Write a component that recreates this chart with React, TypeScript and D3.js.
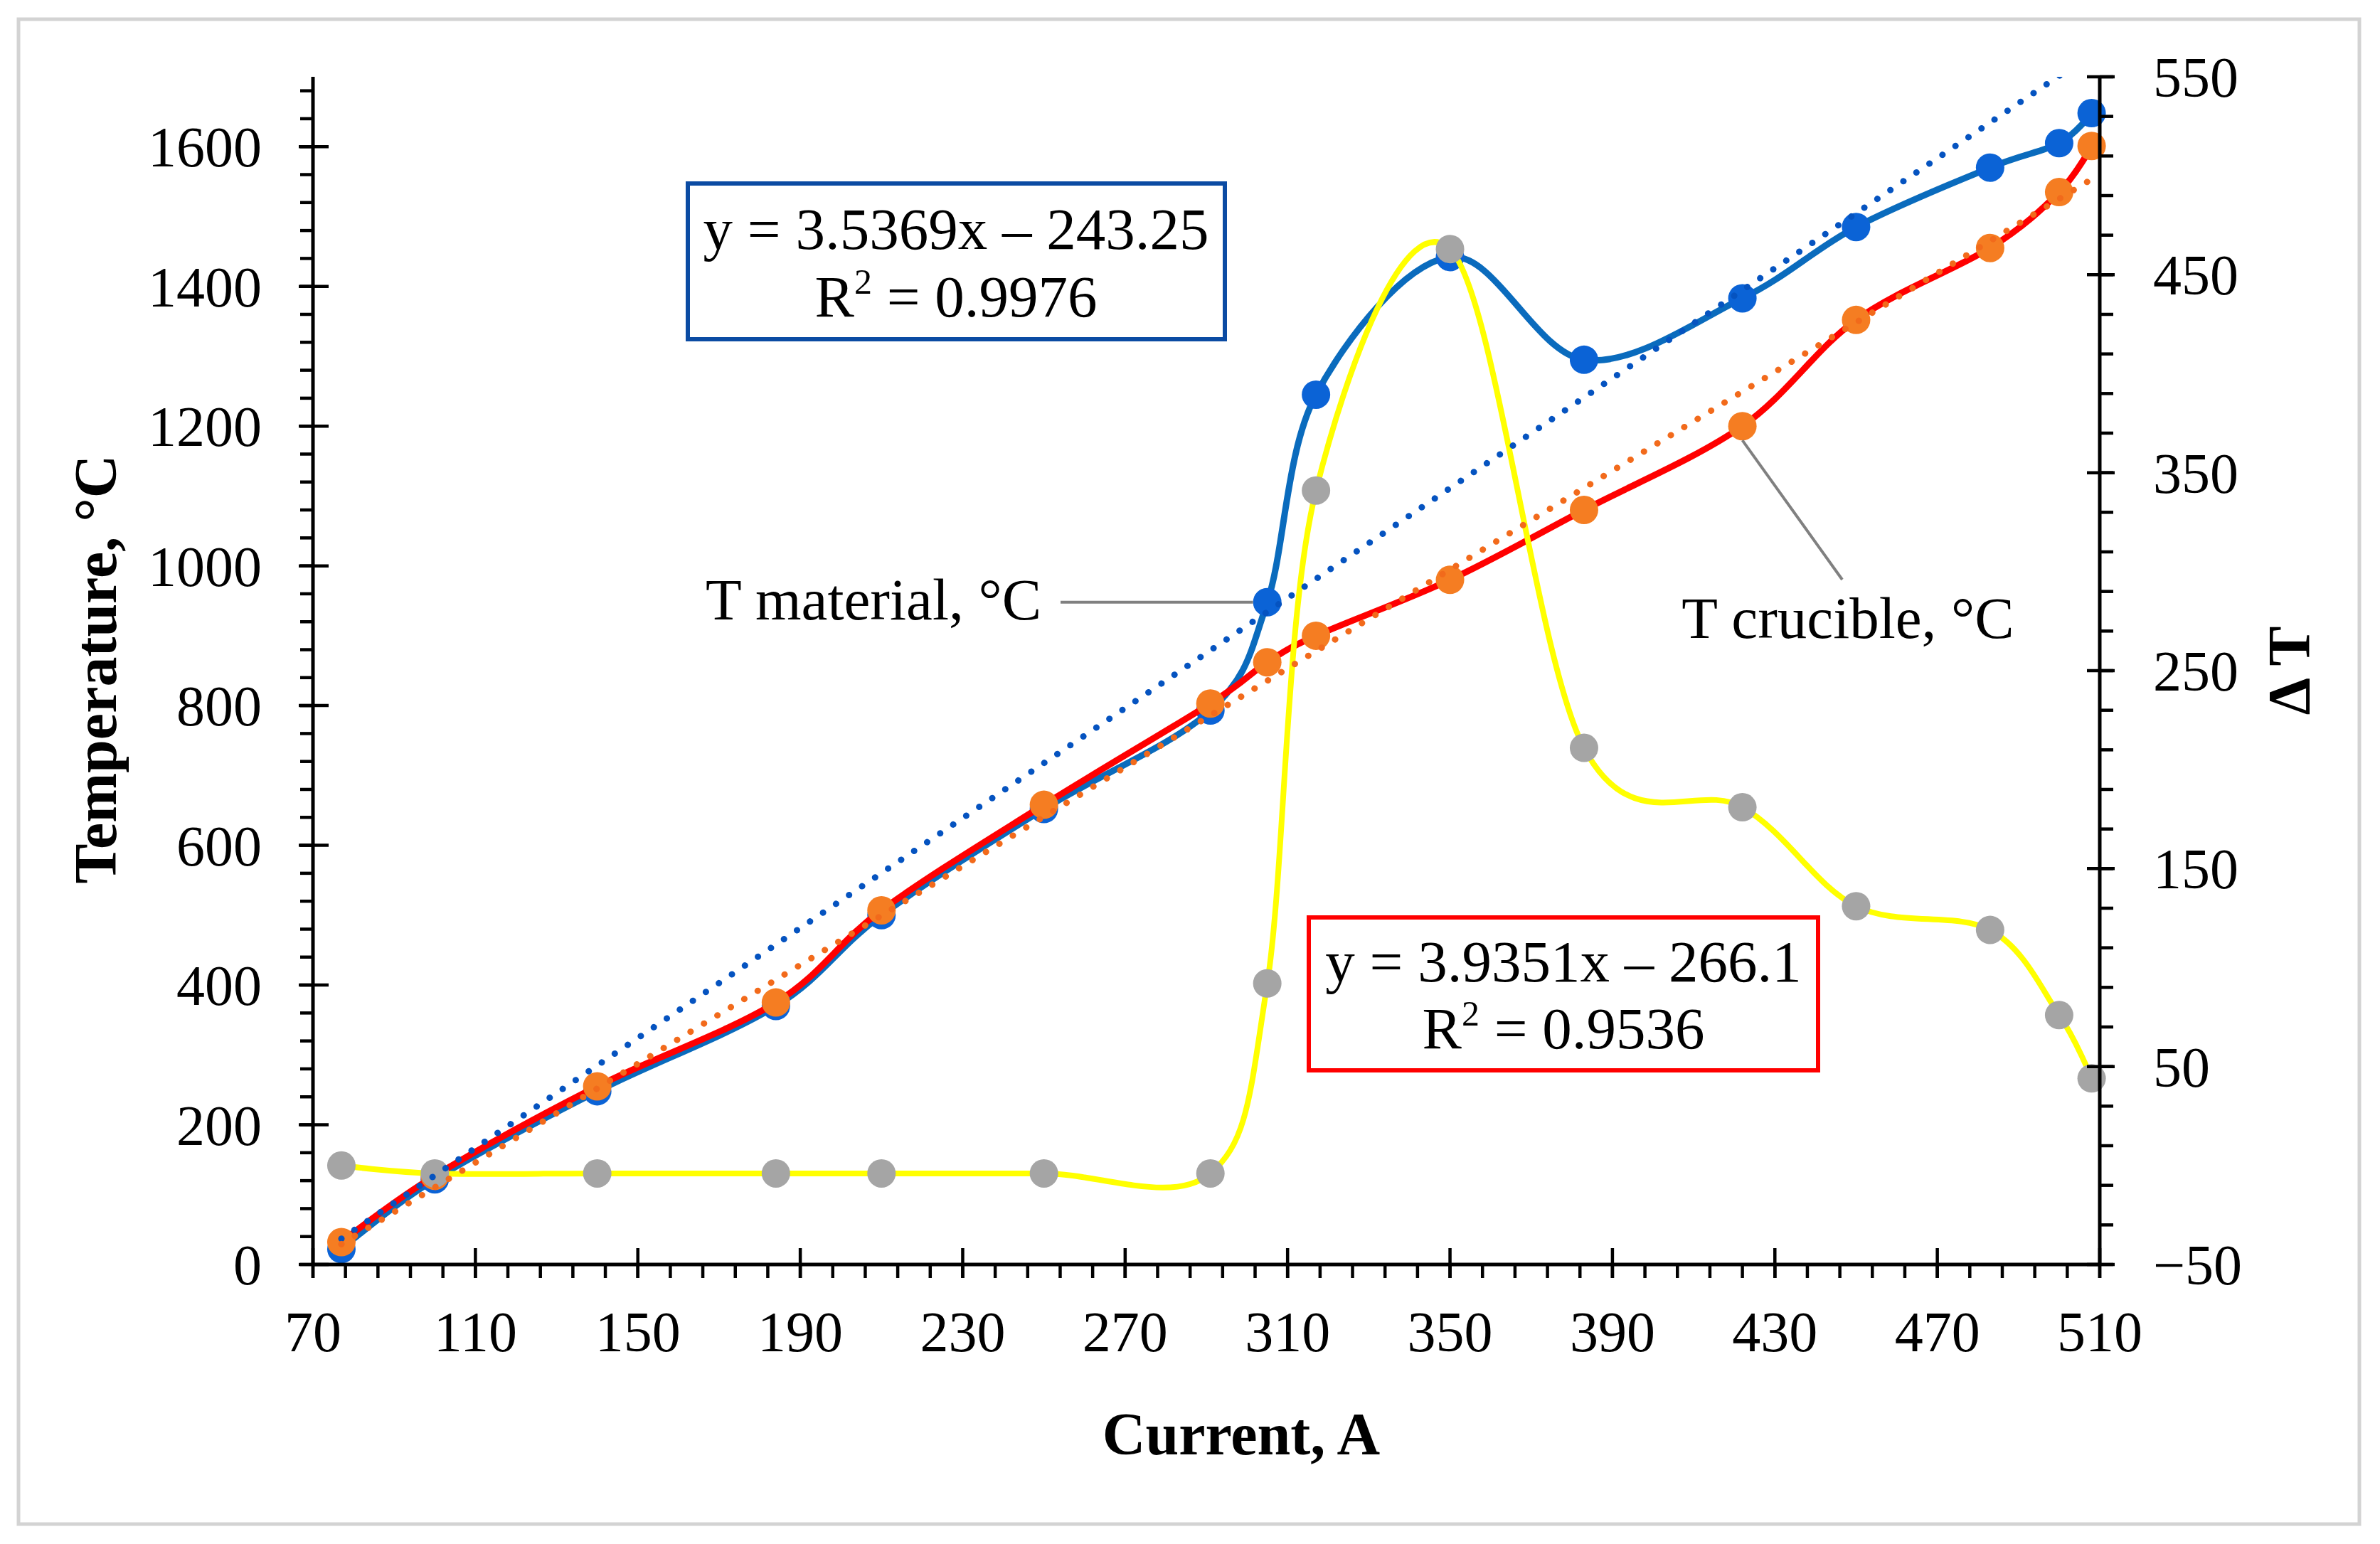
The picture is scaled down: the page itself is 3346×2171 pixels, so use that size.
import React from "react";
import * as d3 from "d3";

// ---- data ----
const current = [77, 100, 140, 184, 210, 250, 291, 305, 317, 350, 383, 422, 450, 483, 500, 508];
const tMaterial = [22, 122, 248, 370, 500, 652, 793, 948, 1245, 1442, 1295, 1383, 1485, 1570, 1605, 1648];
const tCrucible = [32, 127, 255, 375, 507, 658, 803, 862, 900, 980, 1080, 1200, 1352, 1455, 1535, 1601];
const deltaT = [0, -4, -4, -4, -4, -4, -4, 92, 341, 463, 211, 181, 131, 119, 76, 44];

// trendlines as drawn (linear fits)
const trendMaterial = { slope: 3.9351, intercept: -266.1 };
const trendCrucible = { slope: 3.5369, intercept: -243.25 };

const xTicks = d3.range(70, 511, 40);
const xMinor = d3.range(70, 511, 8);
const yLeftTicks = d3.range(0, 1601, 200);
const yLeftMinor = d3.range(0, 1681, 40);
const yRightTicks = d3.range(-50, 551, 100);
const yRightMinor = d3.range(-50, 551, 20);

const eq1 = ["y = 3.5369x – 243.25", "0.9976"];
const eq2 = ["y = 3.9351x – 266.1", "0.9536"];

const W = 3346;
const H = 2171;
const FONT = "'Liberation Serif', 'Times New Roman', serif";

export default function App() {
  const x = d3.scaleLinear().domain([70, 510]).range([440, 2952]);
  const yL = d3.scaleLinear().domain([0, 1700]).range([1778, 108]);
  const yR = d3.scaleLinear().domain([-50, 550]).range([1778, 108]);

  const curve = d3.curveCardinal.tension(0);
  const lineL = d3
    .line<[number, number]>()
    .x((d) => x(d[0]))
    .y((d) => yL(d[1]))
    .curve(curve);
  const lineR = d3
    .line<[number, number]>()
    .x((d) => x(d[0]))
    .y((d) => yR(d[1]))
    .curve(curve);
  const straight = d3
    .line<[number, number]>()
    .x((d) => x(d[0]))
    .y((d) => yL(d[1]));

  const matPts = current.map((c, i) => [c, tMaterial[i]] as [number, number]);
  const crPts = current.map((c, i) => [c, tCrucible[i]] as [number, number]);
  const dPts = current.map((c, i) => [c, deltaT[i]] as [number, number]);

  const x0 = current[0];
  const x1 = current[current.length - 1];
  const trM: [number, number][] = [
    [x0, trendMaterial.slope * x0 + trendMaterial.intercept],
    [x1, trendMaterial.slope * x1 + trendMaterial.intercept],
  ];
  const trC: [number, number][] = [
    [x0, trendCrucible.slope * x0 + trendCrucible.intercept],
    [x1, trendCrucible.slope * x1 + trendCrucible.intercept],
  ];

  const R = 20;
  const iMat = current.indexOf(305);
  const iCr = current.indexOf(422);

  return (
    <svg
      width={W}
      height={H}
      viewBox={`0 0 ${W} ${H}`}
      style={{ position: "absolute", left: 0, top: 0, background: "#fff" }}
      fontFamily={FONT}
    >
      <defs>
        <clipPath id="plotClip">
          <rect x={440} y={108} width={2512} height={1670} />
        </clipPath>
      </defs>
      <rect x={0} y={0} width={W} height={H} fill="#fff" />
      <rect x={26} y={27} width={3291} height={2116} fill="none" stroke="#d3d3d3" strokeWidth={5} />

      {/* annotation boxes */}
      <rect x={967} y={258} width={755} height={219} fill="#fff" stroke="#0b4ba3" strokeWidth={6} />
      <text x={1344} y={350} fontSize={83} textAnchor="middle" fill="#000">{eq1[0]}</text>
      <text x={1344} y={445} fontSize={83} textAnchor="middle" fill="#000">
        R<tspan fontSize={50} dy={-32}>2</tspan>
        <tspan dy={32}>{" = " + eq1[1]}</tspan>
      </text>

      <rect x={1840} y={1290} width={716} height={215} fill="#fff" stroke="#ff0000" strokeWidth={6} />
      <text x={2198} y={1380} fontSize={83} textAnchor="middle" fill="#000">{eq2[0]}</text>
      <text x={2198} y={1474} fontSize={83} textAnchor="middle" fill="#000">
        R<tspan fontSize={50} dy={-32}>2</tspan>
        <tspan dy={32}>{" = " + eq2[1]}</tspan>
      </text>

      {/* series: T material */}
      <path d={lineL(matPts) || ""} fill="none" stroke="#0a6bbd" strokeWidth={9} />
      {matPts.map((p, i) => (
        <circle key={"m" + i} cx={x(p[0])} cy={yL(p[1])} r={R} fill="#0b63d6" />
      ))}

      {/* series: T crucible */}
      <path d={lineL(crPts) || ""} fill="none" stroke="#ff0000" strokeWidth={9} />
      {crPts.map((p, i) => (
        <circle key={"c" + i} cx={x(p[0])} cy={yL(p[1])} r={R} fill="#f57d22" />
      ))}

      {/* series: delta T (right axis) */}
      <path d={lineR(dPts) || ""} fill="none" stroke="#ffff00" strokeWidth={8} />
      {dPts.map((p, i) => (
        <circle key={"d" + i} cx={x(p[0])} cy={yR(p[1])} r={R} fill="#a5a5a5" />
      ))}

      {/* trendlines */}
      <g clipPath="url(#plotClip)">
        <path
          d={straight(trM) || ""}
          fill="none"
          stroke="#0553c0"
          strokeWidth={9}
          strokeDasharray="0.1 22"
          strokeLinecap="round"
        />
        <path
          d={straight(trC) || ""}
          fill="none"
          stroke="#f26a1b"
          strokeWidth={9}
          strokeDasharray="0.1 22"
          strokeLinecap="round"
        />
      </g>

      {/* callouts */}
      <line x1={1491} y1={yL(tMaterial[iMat])} x2={x(current[iMat]) - R} y2={yL(tMaterial[iMat])} stroke="#808080" strokeWidth={4} />
      <text x={1464} y={871} fontSize={83} textAnchor="end" fill="#000">T material, °C</text>
      <line x1={x(current[iCr])} y1={yL(tCrucible[iCr]) + R} x2={2590} y2={815} stroke="#808080" strokeWidth={4} />
      <text x={2598} y={897} fontSize={83} textAnchor="middle" fill="#000">T crucible, °C</text>

      {/* left axis */}
      <line x1={440} y1={108} x2={440} y2={1780} stroke="#000" strokeWidth={5} />
      {yLeftMinor.map((v) => (
        <line key={"lm" + v} x1={422} x2={440} y1={yL(v)} y2={yL(v)} stroke="#000" strokeWidth={4.5} />
      ))}
      {yLeftTicks.map((v) => (
        <g key={"lt" + v}>
          <line x1={420} x2={462} y1={yL(v)} y2={yL(v)} stroke="#000" strokeWidth={4.5} />
          <text x={368} y={yL(v)} dy="0.35em" fontSize={80} textAnchor="end" fill="#000">{v}</text>
        </g>
      ))}

      {/* right axis */}
      <line x1={2952} y1={108} x2={2952} y2={1780} stroke="#000" strokeWidth={5} />
      {yRightMinor.map((v) => (
        <line key={"rm" + v} x1={2952} x2={2971} y1={yR(v)} y2={yR(v)} stroke="#000" strokeWidth={4.5} />
      ))}
      {yRightTicks.map((v) => (
        <g key={"rt" + v}>
          <line x1={2934} x2={2973} y1={yR(v)} y2={yR(v)} stroke="#000" strokeWidth={4.5} />
          <text x={3027} y={yR(v)} dy="0.35em" fontSize={80} textAnchor="start" fill="#000">
            {v < 0 ? "−" + Math.abs(v) : String(v)}
          </text>
        </g>
      ))}

      {/* x axis */}
      <line x1={438} y1={1778} x2={2954} y2={1778} stroke="#000" strokeWidth={5} />
      {xMinor.map((v) => (
        <line key={"xm" + v} x1={x(v)} x2={x(v)} y1={1778} y2={1797} stroke="#000" strokeWidth={4.5} />
      ))}
      {xTicks.map((v) => (
        <g key={"xt" + v}>
          <line x1={x(v)} x2={x(v)} y1={1755} y2={1797} stroke="#000" strokeWidth={4.5} />
          <text x={x(v)} y={1900} fontSize={80} textAnchor="middle" fill="#000">{v}</text>
        </g>
      ))}

      {/* axis titles */}
      <text x={1745} y={2045} fontSize={84} fontWeight="bold" textAnchor="middle" fill="#000">Current, A</text>
      <text
        transform={`translate(163, 941) rotate(-90)`}
        fontSize={84}
        fontWeight="bold"
        textAnchor="middle"
        fill="#000"
      >
        Temperature, °C
      </text>
      <text
        transform={`translate(3247, 943) rotate(-90)`}
        fontSize={84}
        fontWeight="bold"
        textAnchor="middle"
        fill="#000"
      >
        Δ T
      </text>
    </svg>
  );
}
